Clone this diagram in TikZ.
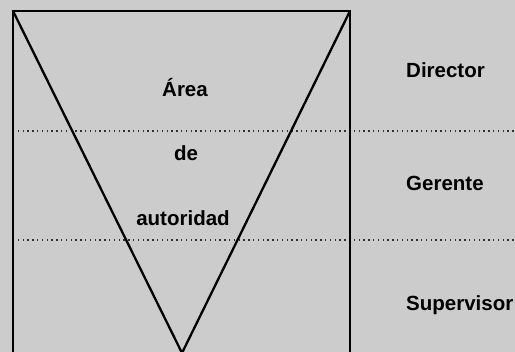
\documentclass[tikz,border=0pt]{standalone}
\usepackage{fontspec}
\setmainfont{Liberation Sans}
\begin{document}
\begin{tikzpicture}[x=1pt,y=-1pt,
  frame/.style={line width=2.5pt,black},
  level/.style={line width=1.4pt,black!80,dash pattern=on 1.4pt off 3.4pt},
  lbl/.style={font=\fontsize{20.5}{24}\selectfont\bfseries,text=black,inner sep=0pt},
  rlbl/.style={lbl,anchor=west}]
\fill[black!20] (0,0) rectangle (515,352);
\useasboundingbox (0,0) rectangle (515,352);
% frame and triangle corners
\coordinate (bl) at (13,354);
\coordinate (tl) at (13,11);
\coordinate (tr) at (350,11);
\coordinate (br) at (350,354);
\coordinate (apex) at (182,353);
\coordinate (d1l) at (13,131);
\coordinate (d1r) at (515,131);
\coordinate (d2l) at (13,240);
\coordinate (d2r) at (515,240);
% dotted level lines
\draw[level] (d1l) -- (d1r);
\draw[level] (d2l) -- (d2r);
% frame
\draw[frame] (bl) -- (tl) -- (tr) -- (br);
% inverted triangle
\draw[frame,line width=2.3pt,line join=miter] (tl) -- (apex) -- (tr);
% labels
\node[lbl] (area) at (185,88) {Área};
\node[lbl] (de) at (186,153) {de};
\node[lbl] (aut) at (183,218) {autoridad};
\node[rlbl] (dir) at (406,70) {Director};
\node[rlbl] (ger) at (406,183) {Gerente};
\node[rlbl] (sup) at (406,305) {Supervisor};
\end{tikzpicture}
\end{document}
